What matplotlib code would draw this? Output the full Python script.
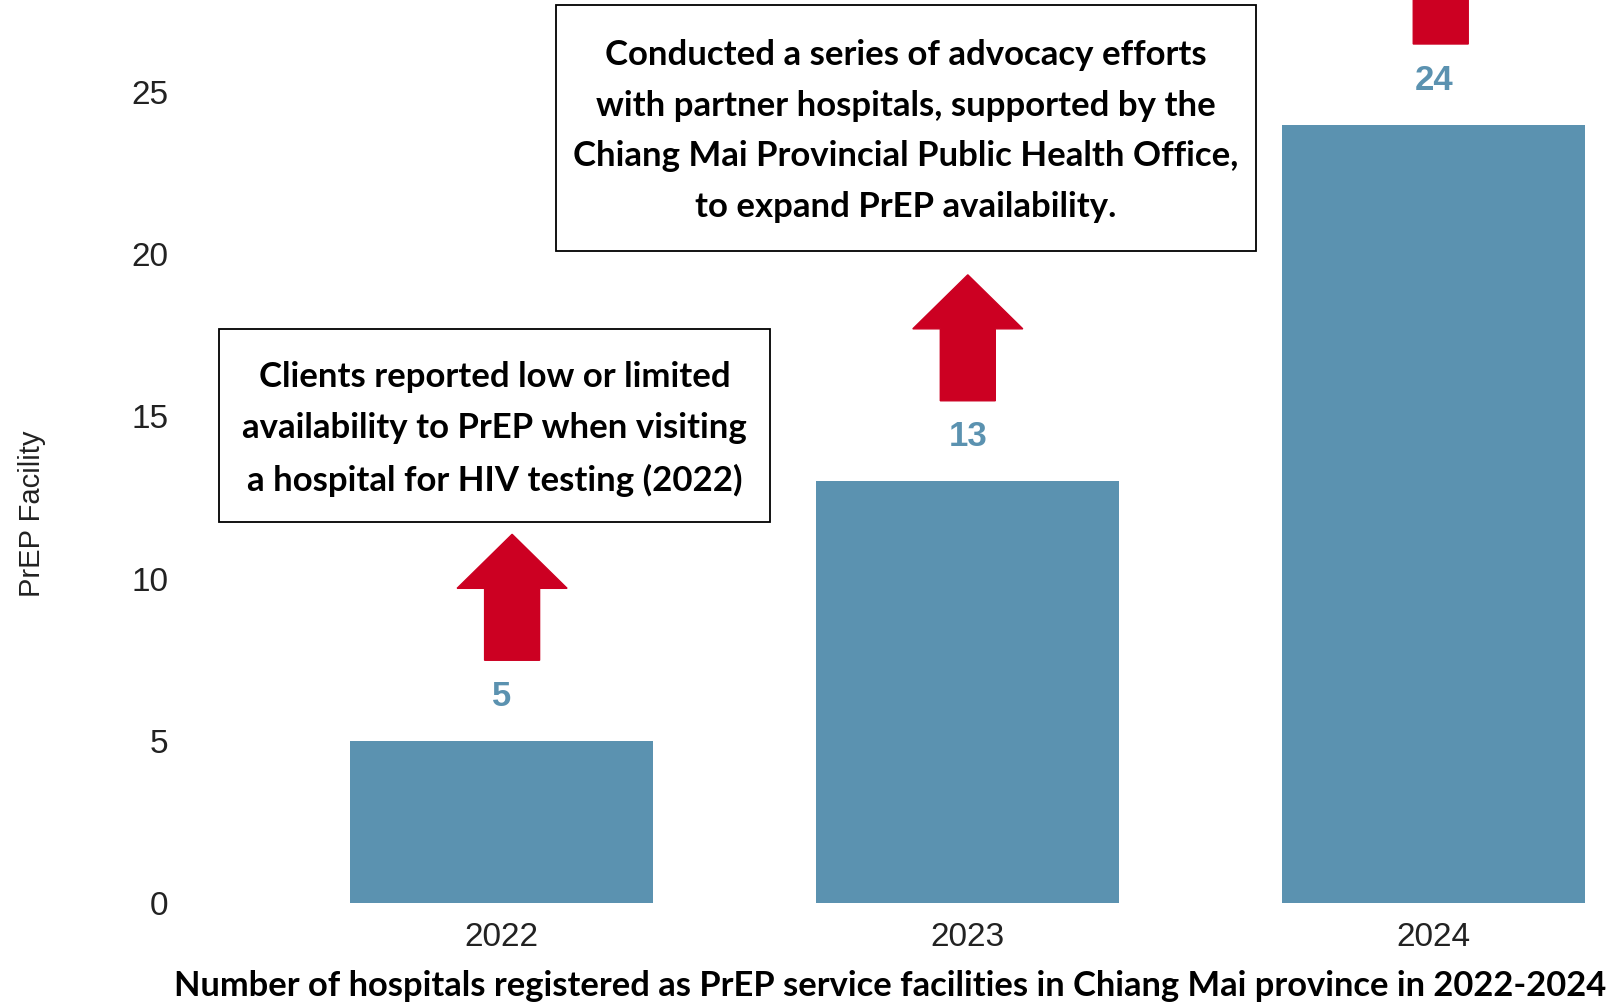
import matplotlib.pyplot as plt
import matplotlib.patches as patches
import matplotlib.transforms as transforms

years = ['2022', '2023', '2024']
facilities = [5, 13, 24]
yticks = [0, 5, 10, 15, 20, 25]

note_2022 = ("Clients reported low or limited\n"
             "availability to PrEP when visiting\n"
             "a hospital for HIV testing (2022)")
note_2023 = ("Conducted a series of advocacy efforts\n"
             "with partner hospitals, supported by the\n"
             "Chiang Mai Provincial Public Health Office,\n"
             "to expand PrEP availability.")
caption = ("Number of hospitals registered as PrEP service facilities "
           "in Chiang Mai province in 2022-2024")

bar_color = '#5b92b0'
red = '#cc0022'
W, H = 1622, 1007

fig = plt.figure(figsize=(W / 100, H / 100), dpi=100)
ax = fig.add_axes([185 / W, 104 / H, 1437 / W, 903 / H])

x = range(len(years))
ax.bar(x, facilities, width=0.65, color=bar_color)
ax.set_xlim(-0.68, 2.404)
ax.set_ylim(0, 27.84)
ax.set_xticks(list(x))
ax.set_xticklabels(years)
ax.set_yticks(yticks)
ax.tick_params(length=0, labelsize=24, colors='#222222')
ax.tick_params(axis='y', pad=12)
ax.tick_params(axis='x', pad=14)
for lab in ax.get_xticklabels() + ax.get_yticklabels():
    lab.set_family('Liberation Sans')
for s in ax.spines.values():
    s.set_visible(False)
ax.set_ylabel('PrEP Facility', fontsize=21, family='Liberation Sans', color='#222222')
ax.yaxis.set_label_coords(-0.097, 0.431)

# value labels
for i, v in enumerate(facilities):
    ax.annotate(str(v), (i, v), xytext=(0, 32), textcoords='offset points',
                ha='center', va='center', fontsize=25, fontweight='bold',
                family='Liberation Sans', color=bar_color)

# red up arrows above each bar (shape in points, anchored at bar top)
arrow = [(-19.8, 0), (19.8, 0), (19.8, 51.8), (39.6, 51.8), (0, 90.7),
         (-39.6, 51.8), (-19.8, 51.8)]
arrow_dx = [0.022, 0.0, 0.015]
for i, v in enumerate(facilities):
    tr = (transforms.Affine2D().translate(0, 58).scale(fig.dpi / 72)
          + transforms.ScaledTranslation(i + arrow_dx[i], v, ax.transData))
    ax.add_patch(patches.Polygon(arrow, closed=True, transform=tr,
                                 color=red, clip_on=True))

# note boxes
def note(x0, y0, x1, y1, cx, cy, text):
    fig.patches.append(patches.Rectangle((x0 / W, 1 - y1 / H), (x1 - x0) / W,
                                         (y1 - y0) / H, transform=fig.transFigure,
                                         fill=False, edgecolor='black', linewidth=1.3))
    fig.text(cx / W, 1 - cy / H, text, ha='center', va='center', fontsize=25,
             fontweight='bold', family='Lato', linespacing=1.73)

note(219, 329, 769.6, 522.4, 494.5, 429, note_2022)
note(555.5, 5.2, 1255.8, 251.4, 906, 131, note_2023)

fig.text(890 / W, 1 - 986 / H, caption, ha='center', va='center', fontsize=24.8,
         fontweight='bold', family='Lato')

fig.savefig('out.png', dpi=100)
